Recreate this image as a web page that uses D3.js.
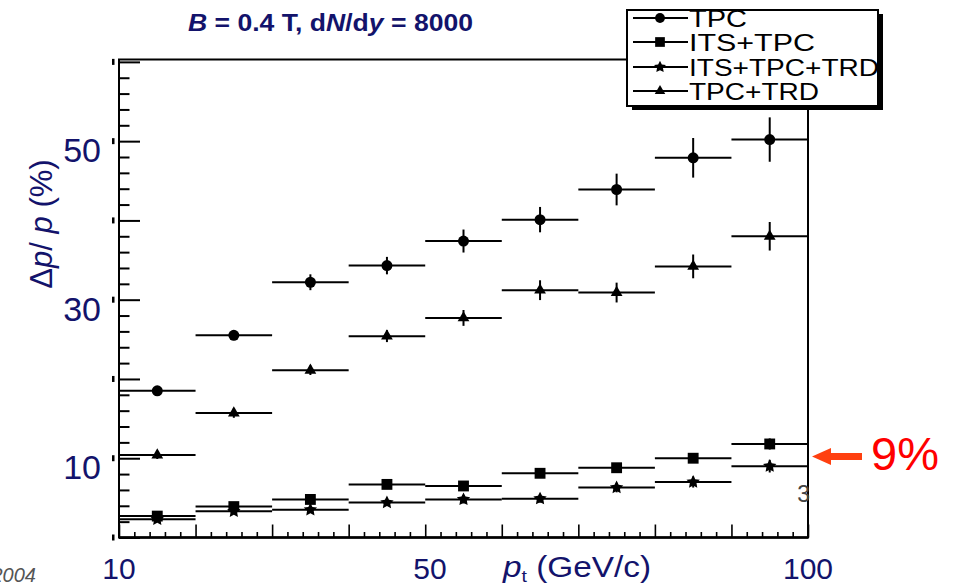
<!DOCTYPE html>
<html lang="en">
<head>
<meta charset="utf-8">
<script src="https://d3js.org/d3.v7.min.js"></script>
<style type="text/css">
  body {
    margin: 0;
    background: white;
  }
  svg text {
    font-family: "Liberation Sans", Arial, sans-serif;
  }
</style>
</head>
<body>
<script type="text/javascript">

  // bins in pt (GeV/c), 10 GeV wide
  var binLow  = [10, 20, 30, 40, 50, 60, 70, 80, 90];
  var binHigh = [20, 30, 40, 50, 60, 70, 80, 90, 100];

  // resolution dp/p in %
  var tpc       = [18.5, 25.5, 32.2, 34.3, 37.4, 40.1, 43.9, 47.9, 50.2];
  var tpcErr    = [0.4, 0.6, 1.0, 1.1, 1.45, 1.6, 2.0, 2.5, 2.8];
  var tpcTrd    = [10.4, 15.7, 21.1, 25.4, 27.7, 31.2, 30.9, 34.2, 38.0];
  var tpcTrdErr = [0.5, 0.6, 0.6, 0.75, 1.0, 1.25, 1.25, 1.5, 1.8];
  var itsTpc    = [2.7, 3.9, 4.8, 6.7, 6.5, 8.1, 8.8, 10.0, 11.8];
  var itsTpcErr = [0.3, 0.3, 0.4, 0.4, 0.5, 0.5, 0.6, 0.6, 0.7];
  var itsTpcTrd    = [2.3, 3.3, 3.5, 4.4, 4.8, 4.9, 6.3, 7.0, 9.0];
  var itsTpcTrdErr = [0.3, 0.3, 0.4, 0.4, 0.5, 0.5, 0.6, 0.7, 0.8];

  var legendText = ["TPC", "ITS+TPC", "ITS+TPC+TRD", "TPC+TRD"];
  var xTickLabels = [10, 50, 100];
  var yTickLabels = [10, 30, 50];

  var width = 953;
  var height = 584;
  var navy = "#13136b";

  var x = d3.scaleLinear().domain([10, 100]).range([119, 808]);
  var y = d3.scaleLinear().domain([0, 60.3]).range([537.5, 59.5]);

  // fat five pointed star like the ROOT marker, size = outer radius squared
  var fatStar = {
    draw: function(context, size) {
      var R = Math.sqrt(size), r = R * 0.5;
      for (var k = 0; k < 10; k++) {
        var a = -Math.PI / 2 + k * Math.PI / 5;
        var rad = k % 2 ? r : R;
        if (k == 0) context.moveTo(rad * Math.cos(a), rad * Math.sin(a));
        else context.lineTo(rad * Math.cos(a), rad * Math.sin(a));
      }
      context.closePath();
    }
  };

  var svg = d3.select("body")
    .append("svg")
    .attr("width", width)
    .attr("height", height);

  // frame
  svg.append("rect")
    .attr("x", x(10))
    .attr("y", y(60.3))
    .attr("width", x(100) - x(10))
    .attr("height", y(0) - y(60.3))
    .style("fill", "none")
    .style("stroke", "#000")
    .style("stroke-width", 2);
  svg.append("line")
    .attr("x1", x(10)).attr("x2", x(100))
    .attr("y1", y(0)).attr("y2", y(0))
    .style("stroke", "#000")
    .style("stroke-width", 2.6);

  // ticks pointing inward, majors every 10 and minors every 2
  function tickAxis(axis, values, size) {
    return axis.tickValues(values).tickSize(size).tickFormat("");
  }
  var majors = d3.range(0, 61, 10);
  var minors = d3.range(0, 61, 2).filter(function(d) { return d % 10 != 0; });
  var xMajors = d3.range(10, 101, 10);
  var xMinors = d3.range(10, 101, 2).filter(function(d) { return d % 10 != 0; });

  [[majors, 21], [minors, 10.5]].forEach(function(t) {
    svg.append("g")
      .attr("transform", "translate(" + x(10) + ",0)")
      .call(tickAxis(d3.axisRight(y), t[0], t[1]))
      .call(function(g) { g.select(".domain").remove(); })
      .selectAll("line").style("stroke-width", 2);
  });
  [[xMajors, 13], [xMinors, 5.5]].forEach(function(t) {
    svg.append("g")
      .attr("transform", "translate(0," + y(0) + ")")
      .call(tickAxis(d3.axisTop(x), t[0], t[1]))
      .call(function(g) { g.select(".domain").remove(); })
      .selectAll("line").style("stroke-width", 1.6);
  });

  // little leftover marks left of the y axis
  svg.selectAll(".stub")
    .data(majors)
    .enter()
    .append("rect")
    .attr("class", "stub")
    .attr("x", 112)
    .attr("y", function(d) { return y(d) - 3; })
    .attr("width", 2.5)
    .attr("height", 6)
    .style("fill", "#000");

  // data: horizontal bin line, vertical error bar, marker
  var series = [
    { name: "TPC", v: tpc, e: tpcErr, sym: d3.symbolCircle, size: 95 },
    { name: "ITS+TPC", v: itsTpc, e: itsTpcErr, sym: d3.symbolSquare, size: 118 },
    { name: "ITS+TPC+TRD", v: itsTpcTrd, e: itsTpcTrdErr, sym: fatStar, size: 49 },
    { name: "TPC+TRD", v: tpcTrd, e: tpcTrdErr, sym: d3.symbolTriangle, size: 60 }
  ];

  series.forEach(function(s) {
    var g = svg.append("g");
    var pts = s.v.map(function(v, i) {
      return { lo: binLow[i], hi: binHigh[i], v: v, e: s.e[i] };
    });
    g.selectAll(".xerr")
      .data(pts)
      .enter()
      .append("line")
      .attr("x1", function(d) { return x(d.lo); })
      .attr("x2", function(d) { return x(d.hi); })
      .attr("y1", function(d) { return y(d.v); })
      .attr("y2", function(d) { return y(d.v); })
      .style("stroke", "#000")
      .style("stroke-width", 2);
    g.selectAll(".yerr")
      .data(pts)
      .enter()
      .append("line")
      .attr("x1", function(d) { return x((d.lo + d.hi) / 2); })
      .attr("x2", function(d) { return x((d.lo + d.hi) / 2); })
      .attr("y1", function(d) { return y(d.v - d.e); })
      .attr("y2", function(d) { return y(d.v + d.e); })
      .style("stroke", "#000")
      .style("stroke-width", 2);
    g.selectAll("path")
      .data(pts)
      .enter()
      .append("path")
      .attr("d", d3.symbol().type(s.sym).size(s.size))
      .attr("transform", function(d) {
        return "translate(" + x((d.lo + d.hi) / 2) + "," + y(d.v) + ")";
      })
      .style("fill", "#000");
  });

  // tick labels (slide overlay, navy)
  svg.selectAll(".ylab")
    .data(yTickLabels)
    .enter()
    .append("text")
    .attr("x", 101)
    .attr("y", function(d) { return y(d) + 21; })
    .attr("text-anchor", "end")
    .style("font-size", "34px")
    .style("fill", navy)
    .text(function(d) { return d; });

  svg.selectAll(".xlab")
    .data(xTickLabels)
    .enter()
    .append("text")
    .attr("x", function(d) { return d == 50 ? 430 : x(d); })
    .attr("y", 579)
    .attr("text-anchor", "middle")
    .style("font-size", "30px")
    .style("fill", navy)
    .text(function(d) { return d; });

  // axis titles
  var xt = svg.append("text")
    .attr("transform", "translate(503,577) scale(1.15,1)")
    .style("font-size", "29px")
    .style("fill", navy);
  xt.append("tspan").style("font-style", "italic").text("p");
  xt.append("tspan").attr("dy", 5).style("font-size", "17px").text("t");
  xt.append("tspan").attr("dy", -5).text(" (GeV/c)");

  var yt = svg.append("text")
    .attr("transform", "translate(52,224) rotate(-90)")
    .attr("text-anchor", "middle")
    .style("font-size", "31px")
    .style("fill", navy);
  yt.append("tspan").text("\u0394");
  yt.append("tspan").style("font-style", "italic").text("p");
  yt.append("tspan").text("/ ");
  yt.append("tspan").style("font-style", "italic").text("p");
  yt.append("tspan").text(" (%)");

  // title
  var title = svg.append("text")
    .attr("x", 188)
    .attr("y", 31)
    .attr("textLength", 285)
    .attr("lengthAdjust", "spacingAndGlyphs")
    .style("font-size", "23px")
    .style("font-weight", "bold")
    .style("fill", navy);
  title.append("tspan").style("font-style", "italic").text("B");
  title.append("tspan").text(" = 0.4 T, d");
  title.append("tspan").style("font-style", "italic").text("N");
  title.append("tspan").text("/d");
  title.append("tspan").style("font-style", "italic").text("y");
  title.append("tspan").text(" = 8000");

  // legend box with shadow
  var lx = 627, ly = 10, lw = 251, lh = 96;
  svg.append("rect")
    .attr("x", lx + 5).attr("y", ly + 4)
    .attr("width", lw).attr("height", lh)
    .style("fill", "#000");
  svg.append("rect")
    .attr("x", lx).attr("y", ly)
    .attr("width", lw).attr("height", lh)
    .style("fill", "#fff");

  var legendY = [18, 42, 67, 91];
  var legendLen = [58, 126, 190, 130];
  var legend = svg.selectAll(".legend")
    .data(series)
    .enter()
    .append("g")
    .attr("transform", function(d, i) { return "translate(0," + legendY[i] + ")"; });

  legend.append("line")
    .attr("x1", 633).attr("x2", 688)
    .style("stroke", "#000")
    .style("stroke-width", 2);
  legend.append("path")
    .attr("d", function(d) { return d3.symbol().type(d.sym).size(d.size * 0.8)(); })
    .attr("transform", "translate(660,0)")
    .style("fill", "#000");
  legend.append("text")
    .attr("x", 689)
    .attr("y", 9)
    .attr("textLength", function(d, i) { return legendLen[i]; })
    .attr("lengthAdjust", "spacingAndGlyphs")
    .style("font-size", "24px")
    .style("fill", "#000")
    .text(function(d, i) { return legendText[i]; });

  svg.append("rect")
    .attr("x", lx).attr("y", ly)
    .attr("width", lw).attr("height", lh)
    .style("fill", "none")
    .style("stroke", "#000")
    .style("stroke-width", 2);

  // leftovers from the slide
  svg.append("text")
    .attr("x", 810)
    .attr("y", 502)
    .attr("text-anchor", "end")
    .style("font-size", "23px")
    .style("fill", "#444")
    .text("3");

  svg.append("text")
    .attr("x", 36)
    .attr("y", 582)
    .attr("text-anchor", "end")
    .style("font-size", "20px")
    .style("font-style", "italic")
    .style("fill", "#555")
    .text("2004");

  // 9% arrow annotation
  var ay = 456.5;
  svg.append("path")
    .attr("d", d3.line()([[812, ay], [831, ay - 8.5], [831, ay - 3.5], [862, ay - 3.5],
                           [862, ay + 3.5], [831, ay + 3.5], [831, ay + 8.5]]) + "Z")
    .style("fill", "#ff4010");
  svg.append("text")
    .attr("x", 871)
    .attr("y", 470)
    .style("font-size", "47px")
    .style("fill", "#ff0000")
    .text("9%");

</script>
</body>
</html>
